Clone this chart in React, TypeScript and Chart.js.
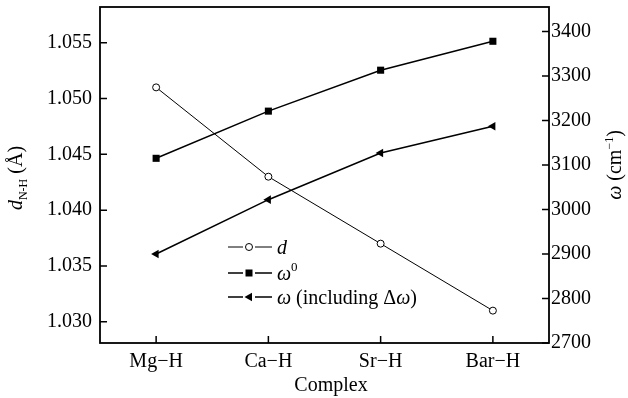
import React, { useEffect, useRef } from "react";
import { Chart, registerables } from "chart.js";

Chart.register(...registerables);

const categories = ["Mg\u2212H", "Ca\u2212H", "Sr\u2212H", "Bar\u2212H"];
const dValues = [1.051, 1.043, 1.037, 1.031];
const omega0Values = [3115, 3221, 3313, 3378];
const omegaValues = [2900, 3022, 3127, 3187];
const leftTicks = [1.03, 1.035, 1.04, 1.045, 1.05, 1.055];
const rightTicks = [2700, 2800, 2900, 3000, 3100, 3200, 3300, 3400];

const FAMILY = "'Liberation Serif', 'Times New Roman', serif";

type Run = { t: string; size: number; italic?: boolean; dy?: number };

function font(r: Run) {
  return `${r.italic ? "italic " : ""}${r.size}px ${FAMILY}`;
}

function drawRuns(ctx: CanvasRenderingContext2D, runs: Run[], x: number, y: number, align: "left" | "center") {
  ctx.textAlign = "left";
  ctx.textBaseline = "alphabetic";
  let total = 0;
  const widths = runs.map((r) => {
    ctx.font = font(r);
    const w = ctx.measureText(r.t).width;
    total += w;
    return w;
  });
  let cx = align === "center" ? x - total / 2 : x;
  runs.forEach((r, i) => {
    ctx.font = font(r);
    ctx.fillText(r.t, cx, y + (r.dy || 0));
    cx += widths[i];
  });
}

const decoPlugin = {
  id: "deco",
  afterDraw(chart: any) {
    const ctx: CanvasRenderingContext2D = chart.ctx;
    const a = chart.chartArea;
    ctx.save();
    ctx.strokeStyle = "#000";
    ctx.fillStyle = "#000";
    ctx.lineWidth = 1.8;
    ctx.strokeRect(a.left, a.top, a.right - a.left, a.bottom - a.top);
    const TL = 7;
    ctx.lineWidth = 1.5;
    ctx.beginPath();
    const xs = chart.scales.x;
    xs.ticks.forEach((_t: any, i: number) => {
      const px = xs.getPixelForTick(i);
      ctx.moveTo(px, a.bottom);
      ctx.lineTo(px, a.bottom - TL);
    });
    const ys = chart.scales.y;
    ys.ticks.forEach((t: any) => {
      const py = ys.getPixelForValue(t.value);
      ctx.moveTo(a.left, py);
      ctx.lineTo(a.left + TL, py);
    });
    const y1 = chart.scales.y1;
    y1.ticks.forEach((t: any) => {
      const py = y1.getPixelForValue(t.value);
      ctx.moveTo(a.right, py);
      ctx.lineTo(a.right - TL, py);
    });
    ctx.stroke();

    // x title
    drawRuns(ctx, [{ t: "Complex", size: 20 }], 331, 391, "center");

    // left title
    ctx.save();
    ctx.translate(22, 178);
    ctx.rotate(-Math.PI / 2);
    drawRuns(
      ctx,
      [
        { t: "d", size: 20, italic: true },
        { t: "N-H", size: 12, dy: 5 },
        { t: " (\u00C5)", size: 20 },
      ],
      0,
      0,
      "center"
    );
    ctx.restore();

    // right title
    ctx.save();
    ctx.translate(621, 165);
    ctx.rotate(-Math.PI / 2);
    drawRuns(
      ctx,
      [
        { t: "\u03C9", size: 20, italic: true },
        { t: " (cm", size: 20 },
        { t: "\u22121", size: 12, dy: -8 },
        { t: ")", size: 20 },
      ],
      0,
      0,
      "center"
    );
    ctx.restore();

    // legend
    const rows = [247, 273, 297];
    const lx1 = 228, lx2 = 243, lx3 = 255, lx4 = 272, mx = 249, tx = 277;
    rows.forEach((ry, i) => {
      ctx.lineWidth = i === 0 ? 1 : 1.5;
      ctx.beginPath();
      ctx.moveTo(lx1, ry);
      ctx.lineTo(lx2, ry);
      ctx.moveTo(lx3, ry);
      ctx.lineTo(lx4, ry);
      ctx.stroke();
      ctx.lineWidth = 1;
      if (i === 0) {
        ctx.beginPath();
        ctx.arc(mx, ry, 3.5, 0, Math.PI * 2);
        ctx.fillStyle = "#fff";
        ctx.fill();
        ctx.stroke();
        ctx.fillStyle = "#000";
      } else if (i === 1) {
        ctx.fillRect(mx - 3.5, ry - 3.5, 7, 7);
      } else {
        ctx.beginPath();
        ctx.moveTo(mx - 4.5, ry);
        ctx.lineTo(mx + 3, ry - 4.3);
        ctx.lineTo(mx + 3, ry + 4.3);
        ctx.closePath();
        ctx.fill();
      }
    });
    const by = 7;
    drawRuns(ctx, [{ t: "d", size: 20, italic: true }], tx, rows[0] + by, "left");
    drawRuns(
      ctx,
      [
        { t: "\u03C9", size: 20, italic: true },
        { t: "0", size: 13, dy: -9 },
      ],
      tx,
      rows[1] + by,
      "left"
    );
    drawRuns(
      ctx,
      [
        { t: "\u03C9", size: 20, italic: true },
        { t: " (including \u0394", size: 20 },
        { t: "\u03C9", size: 20, italic: true },
        { t: ")", size: 20 },
      ],
      tx,
      rows[2] + by,
      "left"
    );
    ctx.restore();
  },
};

export default function App() {
  const ref = useRef<HTMLCanvasElement | null>(null);
  useEffect(() => {
    if (!ref.current) return;
    const tickFont = { family: FAMILY, size: 20 };
    const chart = new Chart(ref.current, {
      type: "line",
      data: {
        labels: categories,
        datasets: [
          {
            label: "d",
            data: dValues,
            yAxisID: "y",
            borderColor: "#000",
            borderWidth: 1,
            pointStyle: "circle",
            pointRadius: 3.5,
            pointBackgroundColor: "#fff",
            pointBorderColor: "#000",
            pointBorderWidth: 1,
            tension: 0,
          },
          {
            label: "\u03C9\u2070",
            data: omega0Values,
            yAxisID: "y1",
            borderColor: "#000",
            borderWidth: 1.5,
            pointStyle: "rect",
            pointRadius: 5,
            pointBackgroundColor: "#000",
            pointBorderColor: "#000",
            pointBorderWidth: 0,
            tension: 0,
          },
          {
            label: "\u03C9 (including \u0394\u03C9)",
            data: omegaValues,
            yAxisID: "y1",
            borderColor: "#000",
            borderWidth: 1.5,
            pointStyle: "triangle",
            pointRotation: -90,
            pointRadius: 5,
            pointBackgroundColor: "#000",
            pointBorderColor: "#000",
            pointBorderWidth: 0,
            tension: 0,
          },
        ],
      },
      options: {
        responsive: true,
        maintainAspectRatio: false,
        animation: false,
        layout: { padding: { left: 0, right: 0, top: 7, bottom: 0 } },
        plugins: { legend: { display: false }, tooltip: { enabled: false } },
        scales: {
          x: {
            type: "category",
            offset: true,
            grid: { display: false, drawTicks: false },
            border: { display: false },
            ticks: { color: "#000", font: tickFont, padding: 7, maxRotation: 0, autoSkip: false },
            afterFit: (s: any) => {
              s.height = 55;
              s.paddingLeft = 0;
              s.paddingRight = 0;
            },
          },
          y: {
            position: "left",
            min: 1.0281,
            max: 1.0582,
            grid: { display: false, drawTicks: false },
            border: { display: false },
            afterBuildTicks: (s: any) => {
              s.ticks = leftTicks.map((v) => ({ value: v }));
            },
            ticks: {
              color: "#000",
              font: tickFont,
              padding: 8,
              callback: (v: any) => Number(v).toFixed(3),
            },
            afterFit: (s: any) => {
              s.width = 100;
              s.paddingTop = 0;
              s.paddingBottom = 0;
            },
          },
          y1: {
            position: "right",
            min: 2700,
            max: 3455,
            grid: { display: false, drawTicks: false },
            border: { display: false },
            afterBuildTicks: (s: any) => {
              s.ticks = rightTicks.map((v) => ({ value: v }));
            },
            ticks: {
              color: "#000",
              font: tickFont,
              padding: 2,
              callback: (v: any) => String(v),
            },
            afterFit: (s: any) => {
              s.width = 79;
              s.paddingTop = 0;
              s.paddingBottom = 0;
            },
          },
        },
      },
      plugins: [decoPlugin],
    } as any);
    return () => chart.destroy();
  }, []);
  return (
    <div style={{ position: "absolute", left: 0, top: 0, width: 628, height: 398, background: "#fff" }}>
      <canvas ref={ref} />
    </div>
  );
}
